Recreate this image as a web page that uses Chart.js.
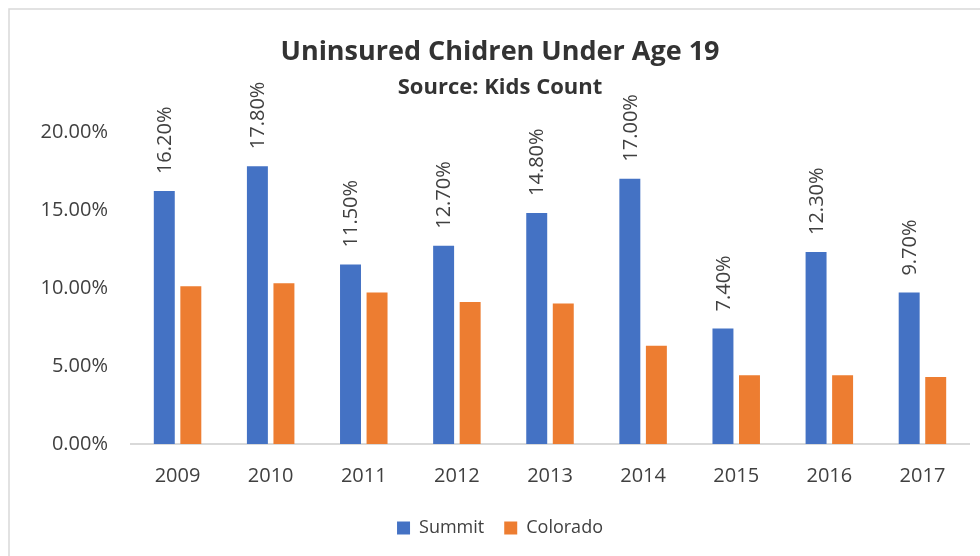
<!DOCTYPE html>
<html>
<head>
<meta charset="utf-8">
<script src="https://cdn.jsdelivr.net/npm/chart.js@4"></script>
<style>
  body { margin: 0; background: #fff; }
  #wrap { width: 980px; height: 556px; }
</style>
</head>
<body>
<div id="wrap"><canvas id="kidsChart" width="980" height="556"></canvas></div>
<script>
const years = ["2009", "2010", "2011", "2012", "2013", "2014", "2015", "2016", "2017"];
const summit = [16.2, 17.8, 11.5, 12.7, 14.8, 17.0, 7.4, 12.3, 9.7];
const colorado = [10.1, 10.3, 9.7, 9.1, 9.0, 6.3, 4.4, 4.4, 4.3];
const yTicks = [0, 5, 10, 15, 20];

const textColor = "#404040";
Chart.defaults.font.family = "'Open Sans', sans-serif";
Chart.defaults.color = textColor;

// chart frame like the excel one
const framePlugin = {
  id: "frame",
  beforeDraw(chart) {
    const ctx = chart.ctx;
    ctx.save();
    ctx.strokeStyle = "#d9d9d9";
    ctx.lineWidth = 1.5;
    ctx.strokeRect(9, 9, 1000, 600);
    ctx.restore();
  },
};

// rotated value labels over the Summit bars
const valueLabels = {
  id: "valueLabels",
  afterDatasetsDraw(chart) {
    const ctx = chart.ctx;
    const meta = chart.getDatasetMeta(0);
    ctx.save();
    ctx.fillStyle = textColor;
    ctx.font = "20px 'Open Sans', sans-serif";
    ctx.textAlign = "left";
    ctx.textBaseline = "middle";
    meta.data.forEach((bar, i) => {
      ctx.save();
      ctx.translate(bar.x + 1, bar.y - 17);
      ctx.rotate(-Math.PI / 2);
      ctx.fillText(summit[i].toFixed(2) + "%", 0, 0);
      ctx.restore();
    });
    ctx.restore();
  },
};

new Chart(document.getElementById("kidsChart").getContext("2d"), {
  type: "bar",
  data: {
    labels: years,
    datasets: [
      {
        label: "Summit",
        data: summit,
        backgroundColor: "#4472C4",
        categoryPercentage: 0.57,
        barPercentage: 0.79,
      },
      {
        label: "Colorado",
        data: colorado,
        backgroundColor: "#ED7D31",
        categoryPercentage: 0.57,
        barPercentage: 0.79,
      },
    ],
  },
  options: {
    responsive: false,
    animation: false,
    layout: { padding: { top: 10, left: 31, right: 11, bottom: 9 } },
    plugins: {
      title: {
        display: true,
        text: "Uninsured Chidren Under Age 19",
        color: "#333333",
        font: { size: 27, weight: "bold" },
        padding: { top: 26, bottom: 4 },
      },
      subtitle: {
        display: true,
        text: "Source: Kids Count",
        color: "#333333",
        font: { size: 22, weight: "bold" },
        padding: { top: 2, bottom: 31 },
      },
      legend: {
        position: "bottom",
        labels: {
          boxWidth: 13,
          boxHeight: 13,
          padding: 20,
          font: { size: 18 },
          color: textColor,
        },
      },
      tooltip: { enabled: false },
    },
    scales: {
      x: {
        grid: { display: false, drawTicks: false },
        border: { display: true, color: "#d9d9d9", width: 2 },
        ticks: { padding: 20, font: { size: 20 }, color: textColor },
        afterFit: (axis) => {
          axis.height -= 9;
        },
      },
      y: {
        min: 0,
        max: 20,
        afterBuildTicks: (axis) => {
          axis.ticks = yTicks.map((v) => ({ value: v }));
        },
        afterFit: (axis) => {
          axis.width = 100;
        },
        grid: { display: false, drawTicks: false },
        border: { display: false },
        ticks: {
          padding: 23,
          font: { size: 20 },
          color: textColor,
          callback: (v) => v.toFixed(2) + "%",
        },
      },
    },
  },
  plugins: [framePlugin, valueLabels],
});
</script>
</body>
</html>
